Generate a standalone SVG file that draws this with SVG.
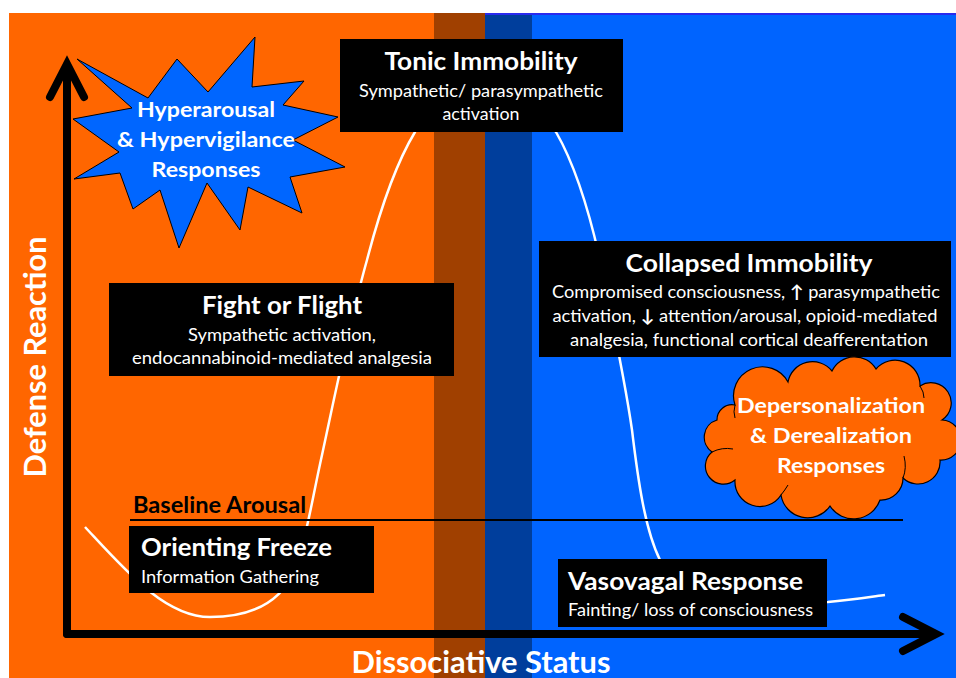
<svg xmlns="http://www.w3.org/2000/svg" width="956" height="678" viewBox="0 0 956 678">
<style>
text{font-family:Lato,"Open Sans","Liberation Sans",sans-serif;fill:#fff}
.b{font-weight:bold}
.box{fill:#000}
.t{font-size:25px;font-weight:bold}
.s{font-size:17.5px}
.c{text-anchor:middle}
.ax{fill:none;stroke:#000;stroke-width:8;stroke-linecap:round}
.curve{fill:none;stroke:#fff;stroke-width:2.5}
</style>
<rect width="956" height="678" fill="#fff"/>
<g id="background">
<rect x="9" y="13" width="425" height="665" fill="#ff6600"/>
<rect x="434" y="13" width="51" height="665" fill="#a04000"/>
<rect x="485" y="13" width="47" height="665" fill="#003e9c"/>
<rect x="532" y="13" width="424" height="665" fill="#0064ff"/>
<line x1="485" y1="14" x2="956" y2="14" stroke="#2a2aee" stroke-width="2"/>
</g>
<g id="connectors">
<path class="curve" d="M85,527 C125,570 165,617 210,617 C255,617 282,600 295,570 C305,545 312,500 322,455 C335,395 350,320 367,260 C380,210 395,165 415,132 C445,75 520,75 556,132 C575,165 590,215 600,260 C612,320 625,380 632,430 C638,480 645,530 660,560 C680,600 720,604 828,602 C850,600 870,597 885,595"/>
<line x1="130" y1="520" x2="903" y2="520" stroke="#000" stroke-width="2"/>
<line class="ax" x1="67" y1="634" x2="67" y2="66"/>
<polyline class="ax" points="50,97 67,64 84,97"/>
<line class="ax" x1="67" y1="634" x2="934" y2="634"/>
<polyline class="ax" points="903,617 936,634 903,651"/>
</g>
<g id="axis-labels">
<text class="b c" font-size="29.5" transform="translate(46,357) rotate(-90)" textLength="241" lengthAdjust="spacingAndGlyphs">Defense Reaction</text>
<text class="b c" font-size="29.5" x="481" y="673" textLength="259" lengthAdjust="spacingAndGlyphs">Dissociative Status</text>
</g>
<g id="hyperarousal">
<polygon points="77,59 148,98 177,59 208,92 255,37 252,87 304,81 283,105 338,117 293,140 345,167 290,177 302,213 248,187 240,230 207,183 179,248 160,190 133,209 120,173 74,179 119,152 73,119 132,108" fill="#0066ff" stroke="#000" stroke-width="1"/>
<text class="b c" font-size="21.5" x="206" y="117" textLength="138" lengthAdjust="spacingAndGlyphs">Hyperarousal</text>
<text class="b c" font-size="21.5" x="206" y="147" textLength="178" lengthAdjust="spacingAndGlyphs">&amp; Hypervigilance</text>
<text class="b c" font-size="21.5" x="206" y="177" textLength="109" lengthAdjust="spacingAndGlyphs">Responses</text>
</g>
<g id="tonic-immobility">
<rect class="box" x="340" y="39" width="283" height="93"/>
<text class="t c" font-size="24.5" x="481" y="70" textLength="193" lengthAdjust="spacingAndGlyphs">Tonic Immobility</text>
<text class="s c" x="481" y="97" textLength="244" lengthAdjust="spacingAndGlyphs">Sympathetic/ parasympathetic</text>
<text class="s c" x="481" y="120" textLength="77" lengthAdjust="spacingAndGlyphs">activation</text>
</g>
<g id="fight-or-flight">
<rect class="box" x="109" y="283" width="345" height="93"/>
<text class="t c" x="282" y="314" textLength="160" lengthAdjust="spacingAndGlyphs">Fight or Flight</text>
<text class="s c" x="282" y="341" textLength="188" lengthAdjust="spacingAndGlyphs">Sympathetic activation,</text>
<text class="s c" x="282" y="364" textLength="300" lengthAdjust="spacingAndGlyphs">endocannabinoid-mediated analgesia</text>
</g>
<g id="baseline-arousal">
<text class="b" font-size="22.5" x="133" y="513" style="fill:#000" textLength="173" lengthAdjust="spacingAndGlyphs">Baseline Arousal</text>
</g>
<g id="orienting-freeze">
<rect class="box" x="129" y="526" width="245" height="67"/>
<text class="t" x="141" y="556" textLength="191" lengthAdjust="spacingAndGlyphs">Orienting Freeze</text>
<text class="s" x="141" y="583" textLength="178" lengthAdjust="spacingAndGlyphs">Information Gathering</text>
</g>
<g id="collapsed-immobility">
<rect class="box" x="539" y="241" width="412" height="116"/>
<text class="t c" font-size="25.5" x="749" y="272" textLength="247" lengthAdjust="spacingAndGlyphs">Collapsed Immobility</text>
<text class="s c" x="746" y="298" textLength="388" lengthAdjust="spacingAndGlyphs">Compromised consciousness, <tspan class="b">↑</tspan> parasympathetic</text>
<text class="s c" x="745" y="322" textLength="385" lengthAdjust="spacingAndGlyphs">activation, <tspan class="b">↓</tspan> attention/arousal, opioid-mediated</text>
<text class="s c" x="749" y="346" textLength="358" lengthAdjust="spacingAndGlyphs">analgesia, functional cortical deafferentation</text>
</g>
<g id="depersonalization">
<path d="M735,405 A29,29 0 0 1 788,382 A25,25 0 0 1 832,371 A25,25 0 0 1 876,369 A25,25 0 0 1 920,386 A20,20 0 0 1 942,420 A20,20 0 0 1 940,460 A22,22 0 0 1 903,478 A22,22 0 0 1 880,500 A28,28 0 0 1 830,506 A27,27 0 0 1 781,495 A25,25 0 0 1 735,480 A18,18 0 0 1 712,452 A18,18 0 0 1 717,420 A15,15 0 0 1 735,405 Z" fill="#ff6600" stroke="#000" stroke-width="1.2"/>
<path d="M735,405 Q733,412 735,418 M903,478 Q907,468 904,456 M781,495 Q785,490 788,485 M712,452 Q722,447 733,449 M920,386 Q924,392 924,398" fill="none" stroke="#000" stroke-width="1"/>
<text class="b c" font-size="21.5" x="831" y="413" textLength="188" lengthAdjust="spacingAndGlyphs">Depersonalization</text>
<text class="b c" font-size="21.5" x="831" y="443" textLength="162" lengthAdjust="spacingAndGlyphs">&amp; Derealization</text>
<text class="b c" font-size="21.5" x="831" y="473" textLength="108" lengthAdjust="spacingAndGlyphs">Responses</text>
</g>
<g id="vasovagal-response">
<rect class="box" x="558" y="559" width="269" height="68"/>
<text class="t" x="568" y="590" textLength="235" lengthAdjust="spacingAndGlyphs">Vasovagal Response</text>
<text class="s" x="568" y="616" textLength="245" lengthAdjust="spacingAndGlyphs">Fainting/ loss of consciousness</text>
</g>
</svg>
